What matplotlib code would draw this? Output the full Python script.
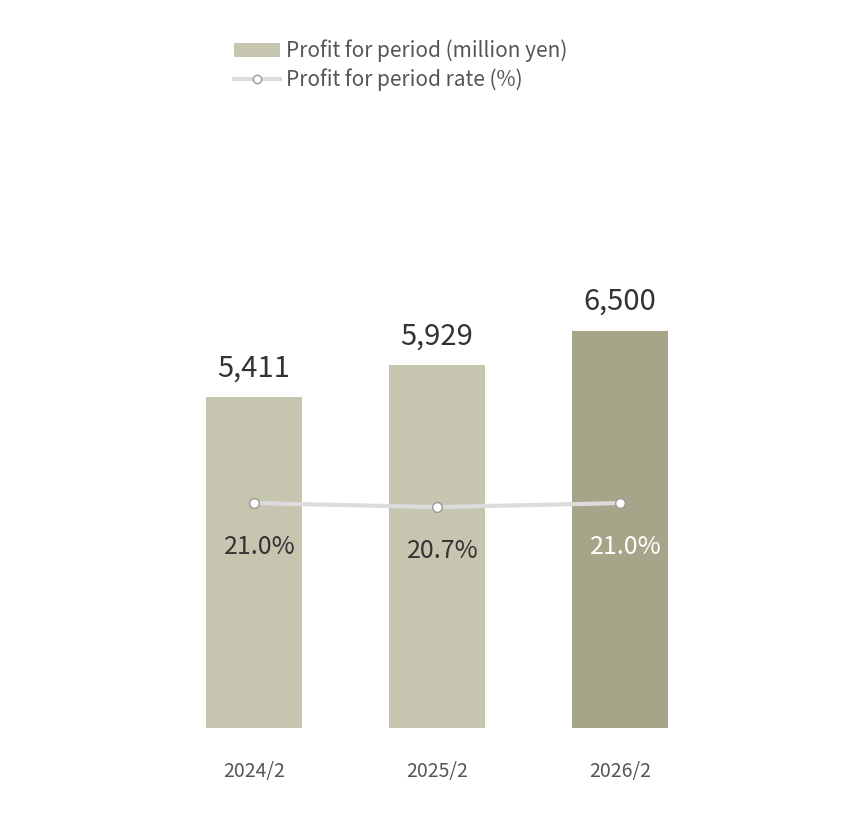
import matplotlib

matplotlib.use("Agg")
import matplotlib.pyplot as plt  # noqa: E402
from matplotlib.lines import Line2D  # noqa: E402
from matplotlib.patches import Patch  # noqa: E402

plt.rcParams["font.family"] = ["Noto Sans CJK JP", "DejaVu Sans"]

periods = ["2024/2", "2025/2", "2026/2"]
profit = [5411, 5929, 6500]
rate = [21.0, 20.7, 21.0]
profit_labels = ["5,411", "5,929", "6,500"]
rate_labels = ["21.0%", "20.7%", "21.0%"]

bar_colors = ["#c6c5b0", "#c6c5b0", "#a6a489"]
rate_text_colors = ["#333333", "#333333", "#ffffff"]

fig = plt.figure(figsize=(8.67, 8.35), dpi=100)
ax = fig.add_axes([0.1874, 0.128, 0.633, 0.632])
x = list(range(len(periods)))

ax.bar(x, profit, width=0.525, color=bar_colors, zorder=1)
ax.set_xlim(-0.5, 2.5)
ax.set_ylim(0, 8627)
for i, v in enumerate(profit):
    ax.annotate(profit_labels[i], (i, v), xytext=(0, 10), textcoords="offset points",
                ha="center", va="bottom", fontsize=21, color="#333333")

ax2 = ax.twinx()
ax2.set_ylim(4.125, 43.7)
ax2.plot(x, rate, color="#dcdcdc", linewidth=3, marker="o", markersize=7,
         markerfacecolor="white", markeredgecolor="#999999", markeredgewidth=1, zorder=3)
for i, v in enumerate(rate):
    ax2.annotate(rate_labels[i], (i, v), xytext=(4, -22), textcoords="offset points",
                 ha="center", va="top", fontsize=18, color=rate_text_colors[i])

for a in (ax, ax2):
    for s in a.spines.values():
        s.set_visible(False)
    a.set_yticks([])
ax.set_xticks(x)
ax.set_xticklabels(periods, fontsize=14, color="#555555")
ax.tick_params(axis="x", length=0, pad=24)

handles = [
    Patch(facecolor="#c6c5b0", edgecolor="none"),
    Line2D([0], [0], color="#dcdcdc", linewidth=3, marker="o", markersize=6,
           markerfacecolor="white", markeredgecolor="#999999"),
]
fig.legend(handles, ["Profit for period (million yen)", "Profit for period rate (%)"],
           loc="upper left", bbox_to_anchor=(0.248, 0.975), frameon=False,
           fontsize=15, labelcolor="#555555", handlelength=2.2, handletextpad=0.3,
           labelspacing=0.3)

fig.savefig("out.png", dpi=100)
